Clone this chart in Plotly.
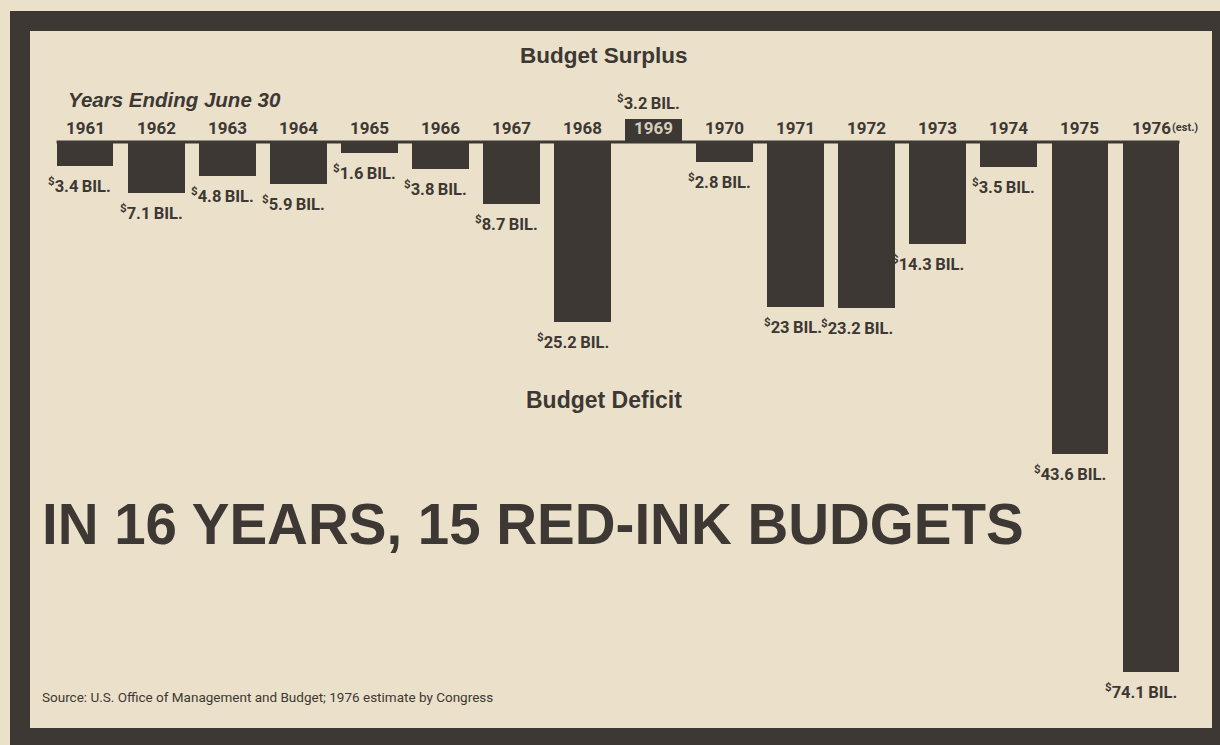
import plotly.graph_objects as go

years = [1961, 1962, 1963, 1964, 1965, 1966, 1967, 1968,
         1969, 1970, 1971, 1972, 1973, 1974, 1975, 1976]
balance = [-3.4, -7.1, -4.8, -5.9, -1.6, -3.8, -8.7, -25.2,
           3.2, -2.8, -23.0, -23.2, -14.3, -3.5, -43.6, -74.1]
value_labels = ["3.4\u2009BIL.", "7.1\u2009BIL.", "4.8\u2009BIL.", "5.9\u2009BIL.",
                "1.6\u2009BIL.", "3.8\u2009BIL.", "8.7\u2009BIL.", "25.2\u2009BIL.",
                "3.2\u2009BIL.", "2.8\u2009BIL.", "23\u2009BIL.", "23.2\u2009BIL.",
                "14.3\u2009BIL.", "3.5\u2009BIL.", "43.6\u2009BIL.", "74.1\u2009BIL."]
year_labels = [str(y) for y in years]

INK = "#3d3834"
PAPER = "#ebe1ca"
NARROW = "Roboto, Liberation Sans, sans-serif"
HEAVY = "Liberation Sans, Arial, sans-serif"
BAR_W = 0.8

W, H = 1220, 745

fig = go.Figure()
fig.add_trace(go.Bar(
    x=years, y=balance, width=BAR_W,
    marker=dict(color=INK, line=dict(width=0)),
    hoverinfo="skip",
))

ann = []
for yr, v, lab, yl in zip(years, balance, value_labels, year_labels):
    ann.append(dict(x=yr, y=1.96, text=f"<b>{yl}</b>", showarrow=False,
                    font=dict(family=NARROW, size=17,
                              color="#d6cdbb" if v > 0 else INK),
                    xanchor="center", yanchor="middle"))
    ys = 17 if v > 0 else -19
    ann.append(dict(x=yr + BAR_W / 2, y=v, yshift=ys, xshift=0,
                    text=f"<b><sup>$</sup>{lab}</b>",
                    showarrow=False, xanchor="right", yanchor="middle",
                    font=dict(family=NARROW, size=16.5, color=INK)))

ann.append(dict(x=1976, y=1.96, xshift=19, text="<b>(est.)</b>",
                showarrow=False, xanchor="left", yanchor="middle",
                font=dict(family=NARROW, size=11, color=INK)))

ann += [
    dict(xref="paper", yref="paper", x=604 / W, y=1 - 55 / H,
         text="<b>Budget Surplus</b>", showarrow=False, yanchor="middle",
         font=dict(family=HEAVY, size=22.5, color=INK)),
    dict(xref="paper", yref="paper", x=604 / W, y=1 - 400 / H,
         text="<b>Budget Deficit</b>", showarrow=False, yanchor="middle",
         font=dict(family=HEAVY, size=23, color=INK)),
    dict(xref="paper", yref="paper", x=66 / W, y=1 - 99 / H, xanchor="left",
         yanchor="middle",
         text="<b><i>Years Ending June 30</i></b>", showarrow=False,
         font=dict(family=HEAVY, size=20.5, color=INK)),
    dict(xref="paper", yref="paper", x=40 / W, y=1 - 524 / H, xanchor="left",
         yanchor="middle",
         text="<b>IN 16 YEARS, 15 RED-INK BUDGETS</b>", showarrow=False,
         font=dict(family=HEAVY, size=56.5, color=INK)),
    dict(xref="paper", yref="paper", x=40 / W, y=1 - 697 / H, xanchor="left",
         yanchor="middle",
         text="Source: U.S. Office of Management and Budget; 1976 estimate by Congress",
         showarrow=False, font=dict(family=NARROW, size=13.5, color=INK)),
]

def prect(x0, y0, x1, y1):
    return dict(type="rect", xref="paper", yref="paper",
                x0=x0 / W, x1=x1 / W, y0=1 - y1 / H, y1=1 - y0 / H,
                fillcolor=INK, line=dict(width=0), layer="above")

shapes = [
    prect(10, 11, 1220, 31),
    prect(10, 11, 30, 745),
    prect(1212, 11, 1220, 745),
    prect(10, 728, 1220, 745),
    dict(type="line", xref="x", yref="y",
         x0=years[0] - BAR_W / 2, x1=years[-1] + BAR_W / 2, y0=0, y1=0,
         line=dict(color=INK, width=3), layer="above"),
]

fig.update_layout(
    width=W, height=H,
    margin=dict(l=0, r=0, t=0, b=0),
    paper_bgcolor=PAPER, plot_bgcolor=PAPER,
    showlegend=False,
    bargap=0,
    xaxis=dict(range=[1959.804, 1976.970], visible=False, fixedrange=True),
    yaxis=dict(range=[-84.30, 19.85], visible=False, fixedrange=True),
    annotations=ann, shapes=shapes,
)

fig.write_html("out.html")
